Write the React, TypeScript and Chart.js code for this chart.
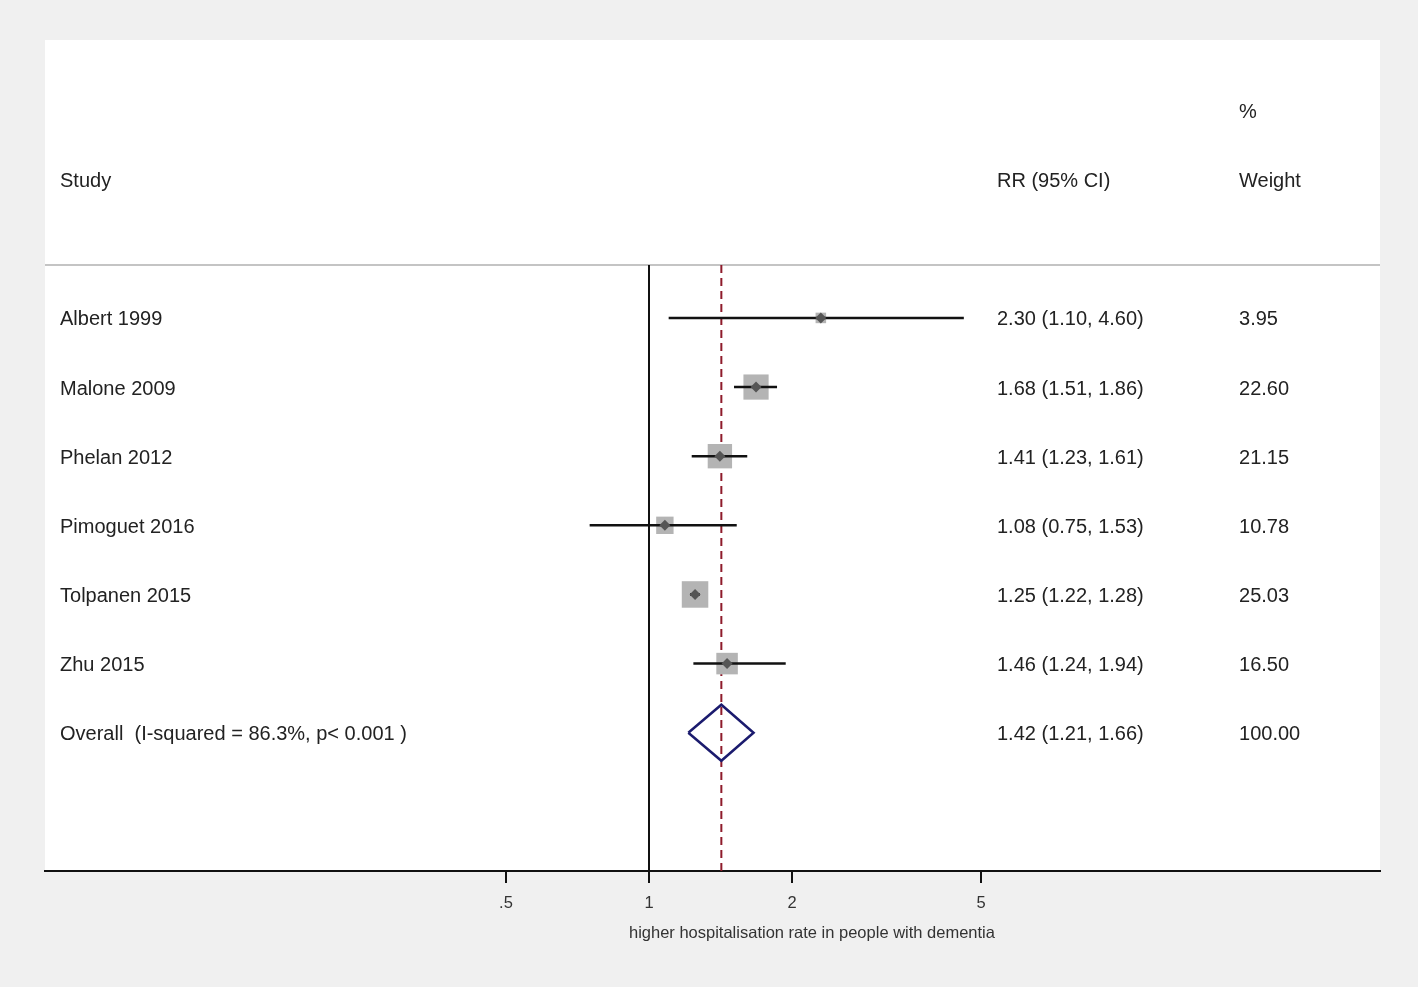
import React, { useEffect, useRef } from 'react';
import { Chart, registerables } from 'chart.js';

Chart.register(...registerables);

// ---------- data ----------
const studies = ['Albert 1999', 'Malone 2009', 'Phelan 2012', 'Pimoguet 2016', 'Tolpanen 2015', 'Zhu 2015'];
const rr = [2.3, 1.68, 1.41, 1.08, 1.25, 1.46];
const lower = [1.1, 1.51, 1.23, 0.75, 1.22, 1.24];
const upper = [4.6, 1.86, 1.61, 1.53, 1.28, 1.94];
const weights = [3.95, 22.6, 21.15, 10.78, 25.03, 16.5];

const overallLabel = 'Overall  (I-squared = 86.3%, p< 0.001 )';
const overallRR = 1.42;
const overallLower = 1.21;
const overallUpper = 1.66;
const overallWeight = 100.0;

const tickValues = [0.5, 1, 2, 5];
const tickLabels = ['.5', '1', '2', '5'];
const axisTitle = 'higher hospitalisation rate in people with dementia';
const headerStudy = 'Study';
const headerRR = 'RR (95% CI)';
const headerPct = '%';
const headerWeight = 'Weight';

// ---------- layout ----------
const FONT = '"Liberation Sans", Arial, Helvetica, sans-serif';
const X_MIN = 0.05352;
const X_MAX = 34.58;
const Y_MIN = -3.02;
const Y_MAX = 9.0;
const SEP_Y = 0.234;
const HEADER_PCT_ROW = -2;
const HEADER_ROW = -1;
const OVERALL_ROW = studies.length + 1;
const DIAMOND_HALF = 0.405;
const TEXT_DY = 2;

const fmt = (v: number) => v.toFixed(2);

const bgPlugin = {
  id: 'forestBg',
  beforeDraw(chart: any) {
    const { ctx, chartArea: ca, width, height } = chart;
    ctx.save();
    ctx.fillStyle = '#f0f0f0';
    ctx.fillRect(0, 0, width, height);
    ctx.fillStyle = '#ffffff';
    ctx.fillRect(ca.left, ca.top, ca.right - ca.left, ca.bottom - ca.top);
    ctx.restore();
  },
};

const textPlugin = {
  id: 'forestText',
  afterDraw(chart: any) {
    const { ctx, chartArea: ca } = chart;
    const y = chart.scales.y;
    const w = ca.right - ca.left;
    const colStudy = ca.left + w * 0.01124;
    const colRR = ca.left + w * 0.7131;
    const colW = ca.left + w * 0.8944;
    ctx.save();
    ctx.font = `20px ${FONT}`;
    ctx.fillStyle = '#222222';
    ctx.textBaseline = 'middle';
    ctx.textAlign = 'left';
    const put = (t: string, x: number, v: number) => ctx.fillText(t, x, y.getPixelForValue(v) + TEXT_DY);
    put(headerPct, colW, HEADER_PCT_ROW);
    put(headerStudy, colStudy, HEADER_ROW);
    put(headerRR, colRR, HEADER_ROW);
    put(headerWeight, colW, HEADER_ROW);
    studies.forEach((s, i) => {
      put(s, colStudy, i + 1);
      put(`${fmt(rr[i])} (${fmt(lower[i])}, ${fmt(upper[i])})`, colRR, i + 1);
      put(fmt(weights[i]), colW, i + 1);
    });
    put(overallLabel, colStudy, OVERALL_ROW);
    put(`${fmt(overallRR)} (${fmt(overallLower)}, ${fmt(overallUpper)})`, colRR, OVERALL_ROW);
    put(fmt(overallWeight), colW, OVERALL_ROW);

    // axis title
    ctx.font = `16.5px ${FONT}`;
    ctx.fillStyle = '#333333';
    ctx.textAlign = 'center';
    ctx.fillText(axisTitle, ca.left + w * 0.5745, ca.bottom + 62);
    ctx.restore();
  },
};

export default function App() {
  const ref = useRef<HTMLCanvasElement | null>(null);

  useEffect(() => {
    if (!ref.current) return;
    Chart.defaults.font.family = FONT;

    const ciDatasets = studies.map((s, i) => ({
      label: s + ' CI',
      data: [
        { x: lower[i], y: i + 1 },
        { x: upper[i], y: i + 1 },
      ],
      showLine: true,
      borderColor: '#111111',
      borderWidth: 2.5,
      pointRadius: 0,
      order: 2,
    }));

    const datasets: any[] = [
      {
        label: 'separator',
        data: [
          { x: X_MIN, y: SEP_Y },
          { x: X_MAX, y: SEP_Y },
        ],
        showLine: true,
        borderColor: '#c4c4c4',
        borderWidth: 2,
        pointRadius: 0,
        order: 6,
      },
      {
        label: 'null line',
        data: [
          { x: 1, y: SEP_Y },
          { x: 1, y: Y_MAX },
        ],
        showLine: true,
        borderColor: '#111111',
        borderWidth: 2,
        pointRadius: 0,
        order: 5,
      },
      {
        label: 'overall line',
        data: [
          { x: overallRR, y: SEP_Y },
          { x: overallRR, y: Y_MAX },
        ],
        showLine: true,
        borderColor: '#8e1b2b',
        borderWidth: 2,
        borderDash: [8, 5],
        pointRadius: 0,
        order: 4,
      },
      {
        label: 'weights',
        data: studies.map((s, i) => ({ x: rr[i], y: i + 1 })),
        showLine: false,
        pointStyle: 'rect',
        pointRadius: weights.map((w) => (5.3 * Math.sqrt(w)) / Math.SQRT2),
        backgroundColor: '#b4b4b4',
        borderWidth: 0,
        order: 3,
      },
      ...ciDatasets,
      {
        label: 'estimates',
        data: studies.map((s, i) => ({ x: rr[i], y: i + 1 })),
        showLine: false,
        pointStyle: 'rectRot',
        pointRadius: 5.5,
        backgroundColor: '#555555',
        borderWidth: 0,
        order: 1,
      },
      {
        label: 'overall',
        data: [
          { x: overallLower, y: OVERALL_ROW },
          { x: overallRR, y: OVERALL_ROW - DIAMOND_HALF },
          { x: overallUpper, y: OVERALL_ROW },
          { x: overallRR, y: OVERALL_ROW + DIAMOND_HALF },
          { x: overallLower, y: OVERALL_ROW },
        ],
        showLine: true,
        borderColor: '#1b1b6e',
        borderWidth: 2.5,
        borderJoinStyle: 'miter',
        pointRadius: 0,
        order: 0,
      },
    ];

    const chart = new Chart(ref.current, {
      type: 'scatter',
      data: { datasets },
      plugins: [bgPlugin, textPlugin],
      options: {
        animation: false,
        responsive: false,
        maintainAspectRatio: false,
        devicePixelRatio: 1,
        events: [],
        layout: { padding: { left: 45, right: 38, top: 40, bottom: 0 } },
        plugins: {
          legend: { display: false },
          tooltip: { enabled: false },
          title: { display: false },
        },
        scales: {
          x: {
            type: 'logarithmic',
            min: X_MIN,
            max: X_MAX,
            bounds: 'data',
            afterBuildTicks: (s: any) => {
              s.ticks = tickValues.map((v) => ({ value: v }));
            },
            afterFit: (s: any) => {
              s.height = 116;
            },
            ticks: {
              autoSkip: false,
              maxRotation: 0,
              minRotation: 0,
              padding: 11,
              color: '#333333',
              font: { size: 16.5, family: FONT },
              callback: (v: any) => {
                const idx = tickValues.indexOf(Number(v));
                return idx >= 0 ? tickLabels[idx] : '';
              },
            },
            grid: {
              drawOnChartArea: false,
              drawTicks: true,
              tickLength: 12,
              color: '#111111',
              lineWidth: 2,
            },
            border: { display: true, color: '#111111', width: 2 },
          },
          y: {
            type: 'linear',
            display: false,
            reverse: true,
            min: Y_MIN,
            max: Y_MAX,
          },
        },
      } as any,
    });
    return () => chart.destroy();
  }, []);

  return (
    <div style={{ position: 'absolute', left: 0, top: 0, width: 1418, height: 987 }}>
      <canvas ref={ref} width={1418} height={987} style={{ display: 'block' }} />
    </div>
  );
}
